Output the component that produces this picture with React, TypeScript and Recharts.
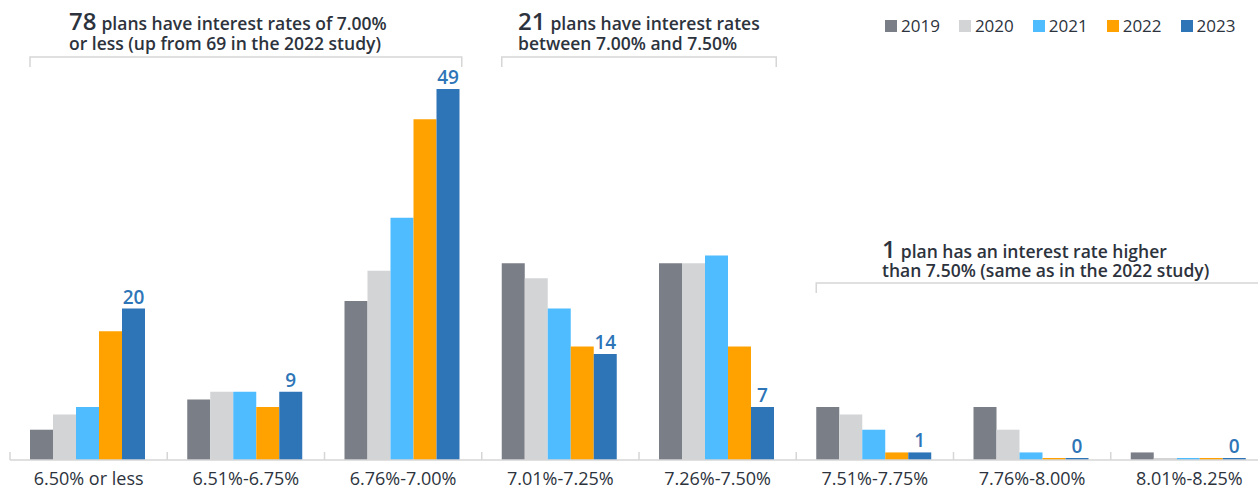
import React from 'react';
import { BarChart, Bar, XAxis, YAxis, LabelList } from 'recharts';

const categories = ['6.50% or less', '6.51%-6.75%', '6.76%-7.00%', '7.01%-7.25%', '7.26%-7.50%', '7.51%-7.75%', '7.76%-8.00%', '8.01%-8.25%'];
const years = ['2019', '2020', '2021', '2022', '2023'];
const v2019 = [4, 8, 21, 26, 26, 7, 7, 1];
const v2020 = [6, 9, 25, 24, 26, 6, 4, 0];
const v2021 = [7, 9, 32, 20, 27, 4, 1, 0];
const v2022 = [17, 7, 45, 15, 15, 1, 0, 0];
const v2023 = [20, 9, 49, 14, 7, 1, 0, 0];
const colors = ['#7a7e86', '#d3d4d6', '#4fbcff', '#ffa200', '#2e75b8'];

const data = categories.map((c, i) => ({
  cat: c,
  '2019': v2019[i],
  '2020': v2020[i],
  '2021': v2021[i],
  '2022': v2022[i],
  '2023': v2023[i],
}));

const W = 1268;
const H = 489;
const ML = 10;
const MR = 0;
const MT = 89;
const AXIS_H = 29;
const BAND = (W - ML - MR) / categories.length;
const GAP = 20;
const FONT = '"Open Sans", sans-serif';
const TEXT = '#2d333d';

const CatTick = (props: any) => {
  const { x, y, payload } = props;
  return (
    <g>
      <line x1={x - BAND / 2} x2={x - BAND / 2} y1={y - 8} y2={y} stroke="#d6d6d6" strokeWidth={1.5} />
      <text x={x} y={y + 25} textAnchor="middle" fontSize={18} fill={TEXT} fontFamily={FONT}>
        {payload.value}
      </text>
    </g>
  );
};

const LegendBox = () => (
  <div style={{ position: 'absolute', left: 885, top: 14, display: 'flex', fontFamily: FONT, fontSize: 17, color: TEXT, lineHeight: '24px' }}>
    {years.map((y, i) => (
      <div key={y} style={{ display: 'flex', alignItems: 'center', marginLeft: i === 0 ? 0 : 19 }}>
        <span style={{ width: 12, height: 12, background: colors[i], display: 'inline-block', marginRight: 4 }} />
        <span>{y}</span>
      </div>
    ))}
  </div>
);

const groupStart = (i: number) => ML + BAND * i + GAP;
const groupEnd = (i: number) => ML + BAND * (i + 1) - GAP;

const Annotations = () => (
  <svg width={W} height={H} style={{ position: 'absolute', left: 0, top: 0, pointerEvents: 'none' }}>
    <g fontFamily={FONT} fill={TEXT} fontWeight={600}>
      <text x={69} y={30} fontSize={17.5}>
        <tspan fontSize={24}>78</tspan>
        <tspan dx={5}>plans have interest rates of 7.00%</tspan>
      </text>
      <text x={69} y={50} fontSize={17.5}>or less (up from 69 in the 2022 study)</text>
      <text x={518} y={30} fontSize={17.5}>
        <tspan fontSize={24}>21</tspan>
        <tspan dx={5}>plans have interest rates</tspan>
      </text>
      <text x={518} y={50} fontSize={17.5}>between 7.00% and 7.50%</text>
      <text x={882} y={258} fontSize={17.5}>
        <tspan fontSize={24}>1</tspan>
        <tspan dx={5}>plan has an interest rate higher</tspan>
      </text>
      <text x={882} y={277} fontSize={17.5}>than 7.50% (same as in the 2022 study)</text>
    </g>
    <g stroke="#d6d6d6" strokeWidth={1.5} fill="none">
      <path d={`M${groupStart(0)} 67 V57 H${groupEnd(2)} V67`} />
      <path d={`M${groupStart(3)} 67 V57 H${groupEnd(4)} V67`} />
      <path d={`M${groupStart(5)} 293 V283 H${W}`} />
    </g>
  </svg>
);

export default function App() {
  return (
    <div style={{ position: 'absolute', left: 0, top: 0, width: 1258, height: 489, overflow: 'hidden', background: '#fff' }}>
      <div style={{ position: 'relative', width: W, height: H }}>
        <BarChart width={W} height={H} data={data} margin={{ top: MT, right: MR, left: ML, bottom: 0 }} barCategoryGap={GAP} barGap={0}>
          <XAxis dataKey="cat" height={AXIS_H} axisLine={{ stroke: '#d6d6d6', strokeWidth: 1.5 }} tickLine={false} tickSize={0} tickMargin={0} tick={<CatTick />} interval={0} />
          <YAxis hide domain={[0, 49]} />
          {years.map((y, i) => (
            <Bar key={y} dataKey={y} fill={colors[i]} isAnimationActive={false} minPointSize={2}>
              {y === '2023' ? (
                <LabelList dataKey={y} position="top" offset={5} fill="#2e75b8" fontSize={19} fontWeight={600} fontFamily={FONT} />
              ) : null}
            </Bar>
          ))}
        </BarChart>
        <Annotations />
        <LegendBox />
      </div>
    </div>
  );
}
